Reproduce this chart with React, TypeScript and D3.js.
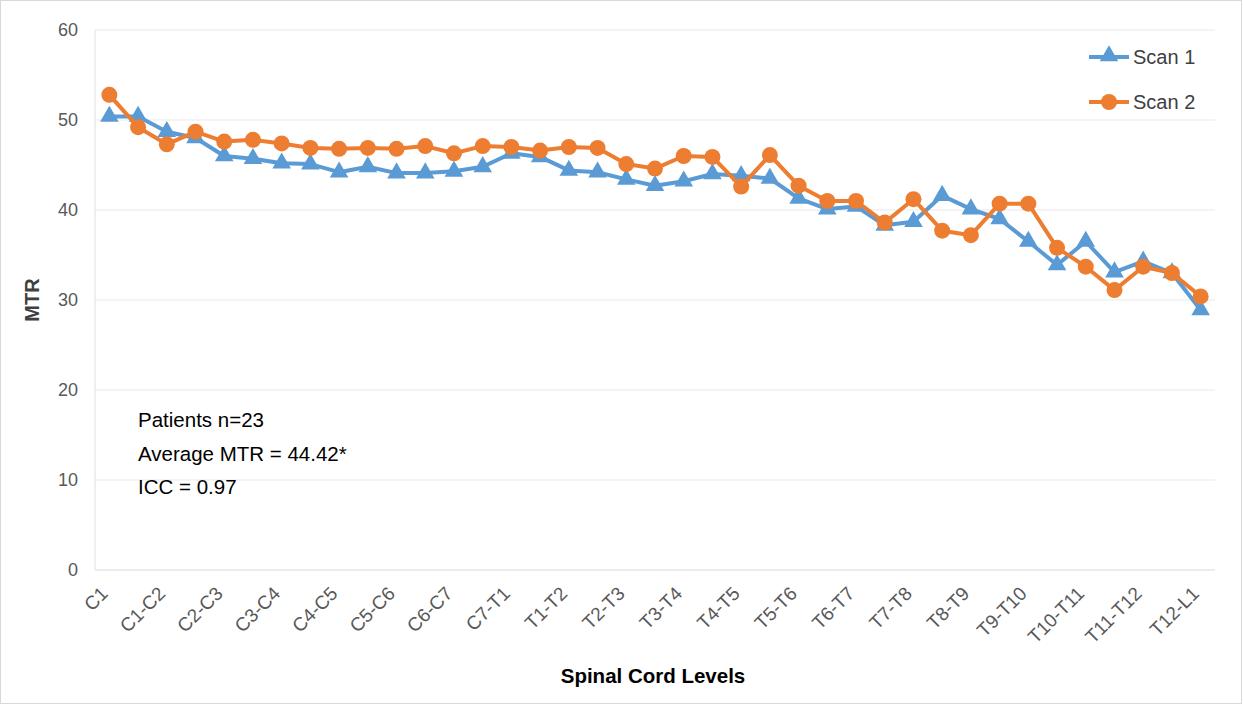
import * as d3 from "d3";
import React, { useEffect, useRef } from "react";

const shownLevels = [
  "C1", "C1-C2", "C2-C3", "C3-C4", "C4-C5", "C5-C6", "C6-C7", "C7-T1",
  "T1-T2", "T2-T3", "T3-T4", "T4-T5", "T5-T6", "T6-T7", "T7-T8", "T8-T9",
  "T9-T10", "T10-T11", "T11-T12", "T12-L1",
];
const hiddenLevels = [
  "C2", "C3", "C4", "C5", "C6", "C7", "T1", "T2", "T3", "T4",
  "T5", "T6", "T7", "T8", "T9", "T10", "T11", "T12", "L1",
];
// 39 measurement positions, every second one is labelled on the axis
const levels: string[] = [];
shownLevels.forEach((l, i) => {
  levels.push(l);
  if (i < hiddenLevels.length) levels.push(hiddenLevels[i]);
});

const scan1 = [
  50.4, 50.4, 48.7, 48.0, 46.0, 45.7, 45.2, 45.1, 44.2, 44.8,
  44.1, 44.1, 44.3, 44.8, 46.3, 45.9, 44.4, 44.2, 43.4, 42.7,
  43.2, 44.0, 43.8, 43.5, 41.3, 40.1, 40.4, 38.3, 38.7, 41.6,
  40.1, 39.0, 36.5, 33.9, 36.5, 33.1, 34.3, 33.0, 28.9,
];
const scan2 = [
  52.8, 49.2, 47.3, 48.7, 47.6, 47.8, 47.4, 46.9, 46.8, 46.9,
  46.8, 47.1, 46.3, 47.1, 47.0, 46.6, 47.0, 46.9, 45.1, 44.6,
  46.0, 45.9, 42.6, 46.1, 42.7, 41.0, 41.0, 38.6, 41.2, 37.7,
  37.2, 40.7, 40.7, 35.8, 33.7, 31.1, 33.7, 33.0, 30.4,
];
const yTicks = [0, 10, 20, 30, 40, 50, 60];
const notes = ["Patients n=23", "Average MTR = 44.42*", "ICC = 0.97"];

const W = 1243;
const H = 705;
const M = { left: 95, right: 1215, top: 30, bottom: 570 };
const BLUE = "#5b9bd5";
const ORANGE = "#ed7d31";
const FONT = "Liberation Sans, Arial, sans-serif";

const App: React.FC = () => {
  const svgRef = useRef<SVGSVGElement>(null);

  useEffect(() => {
    const svg = d3.select(svgRef.current);
    svg.selectAll("*").remove();

    const x = d3.scaleBand<string>().domain(levels).range([M.left, M.right]);
    const cx = (l: string) => (x(l) as number) + x.bandwidth() / 2;
    const y = d3.scaleLinear().domain([0, 60]).range([M.bottom, M.top]);

    svg
      .append("rect")
      .attr("x", 0.5)
      .attr("y", 0.5)
      .attr("width", W - 2)
      .attr("height", H - 2)
      .attr("fill", "white")
      .attr("stroke", "#d9d9d9");

    // gridlines
    svg
      .append("g")
      .selectAll("line")
      .data(yTicks.filter((t) => t > 0))
      .enter()
      .append("line")
      .attr("x1", M.left)
      .attr("x2", M.right)
      .attr("y1", (d) => y(d))
      .attr("y2", (d) => y(d))
      .attr("stroke", "#f0f0f0")
      .attr("stroke-width", 1.5);

    svg
      .append("line")
      .attr("x1", M.left)
      .attr("x2", M.left)
      .attr("y1", M.top)
      .attr("y2", M.bottom)
      .attr("stroke", "#e6e6e6")
      .attr("stroke-width", 1.2);
    svg
      .append("line")
      .attr("x1", M.left)
      .attr("x2", M.right)
      .attr("y1", M.bottom)
      .attr("y2", M.bottom)
      .attr("stroke", "#d9d9d9")
      .attr("stroke-width", 1.2);

    // y tick labels
    svg
      .append("g")
      .selectAll("text")
      .data(yTicks)
      .enter()
      .append("text")
      .attr("x", 78)
      .attr("y", (d) => y(d))
      .attr("dy", "0.35em")
      .attr("text-anchor", "end")
      .attr("font-family", FONT)
      .attr("font-size", 18)
      .attr("fill", "#595959")
      .text((d) => d);

    // x tick labels
    svg
      .append("g")
      .selectAll("text")
      .data(shownLevels)
      .enter()
      .append("text")
      .attr("transform", (d) => `translate(${cx(d) - 5},${590}) rotate(-45)`)
      .attr("dy", "0.35em")
      .attr("text-anchor", "end")
      .attr("font-family", FONT)
      .attr("font-size", 19)
      .attr("fill", "#595959")
      .text((d) => d);

    // axis titles
    svg
      .append("text")
      .attr("transform", `translate(39,${(M.top + M.bottom) / 2}) rotate(-90)`)
      .attr("text-anchor", "middle")
      .attr("font-family", FONT)
      .attr("font-size", 20)
      .attr("font-weight", "bold")
      .attr("fill", "#404040")
      .text("MTR");
    svg
      .append("text")
      .attr("x", 653)
      .attr("y", 683)
      .attr("text-anchor", "middle")
      .attr("font-family", FONT)
      .attr("font-size", 20.5)
      .attr("font-weight", "bold")
      .attr("fill", "#000")
      .text("Spinal Cord Levels");

    const line = d3
      .line<number>()
      .x((_, i) => cx(levels[i]))
      .y((d) => y(d));

    const tri = d3.symbol().type(d3.symbolTriangle).size(150);

    const drawSeries = (vals: number[], color: string, marker: "tri" | "circle") => {
      svg
        .append("path")
        .datum(vals)
        .attr("d", line)
        .attr("fill", "none")
        .attr("stroke", color)
        .attr("stroke-width", 4)
        .attr("stroke-linejoin", "round");
      const g = svg.append("g");
      if (marker === "circle") {
        g.selectAll("circle")
          .data(vals)
          .enter()
          .append("circle")
          .attr("cx", (_, i) => cx(levels[i]))
          .attr("cy", (d) => y(d))
          .attr("r", 8)
          .attr("fill", color);
      } else {
        g.selectAll("path")
          .data(vals)
          .enter()
          .append("path")
          .attr("d", tri as any)
          .attr("transform", (d, i) => `translate(${cx(levels[i])},${y(d)})`)
          .attr("fill", color);
      }
    };

    drawSeries(scan1, BLUE, "tri");
    drawSeries(scan2, ORANGE, "circle");

    // legend
    const legend = [
      { name: "Scan 1", color: BLUE, marker: "tri", yy: 57 },
      { name: "Scan 2", color: ORANGE, marker: "circle", yy: 102 },
    ];
    legend.forEach((l) => {
      svg
        .append("line")
        .attr("x1", 1089)
        .attr("x2", 1129)
        .attr("y1", l.yy)
        .attr("y2", l.yy)
        .attr("stroke", l.color)
        .attr("stroke-width", 4);
      if (l.marker === "circle") {
        svg.append("circle").attr("cx", 1109).attr("cy", l.yy).attr("r", 8).attr("fill", l.color);
      } else {
        svg
          .append("path")
          .attr("d", tri as any)
          .attr("transform", `translate(1109,${l.yy - 1})`)
          .attr("fill", l.color);
      }
      svg
        .append("text")
        .attr("x", 1133)
        .attr("y", l.yy)
        .attr("dy", "0.35em")
        .attr("font-family", FONT)
        .attr("font-size", 20)
        .attr("fill", "#404040")
        .text(l.name);
    });

    // annotation
    svg
      .append("g")
      .selectAll("text")
      .data(notes)
      .enter()
      .append("text")
      .attr("x", 138)
      .attr("y", (_, i) => 427 + i * 33.5)
      .attr("font-family", FONT)
      .attr("font-size", 20.5)
      .attr("fill", "#000")
      .text((d) => d);
  }, []);

  return (
    <svg
      ref={svgRef}
      width={W}
      height={H}
      style={{ position: "absolute", left: 0, top: 0 }}
    />
  );
};

export default App;
